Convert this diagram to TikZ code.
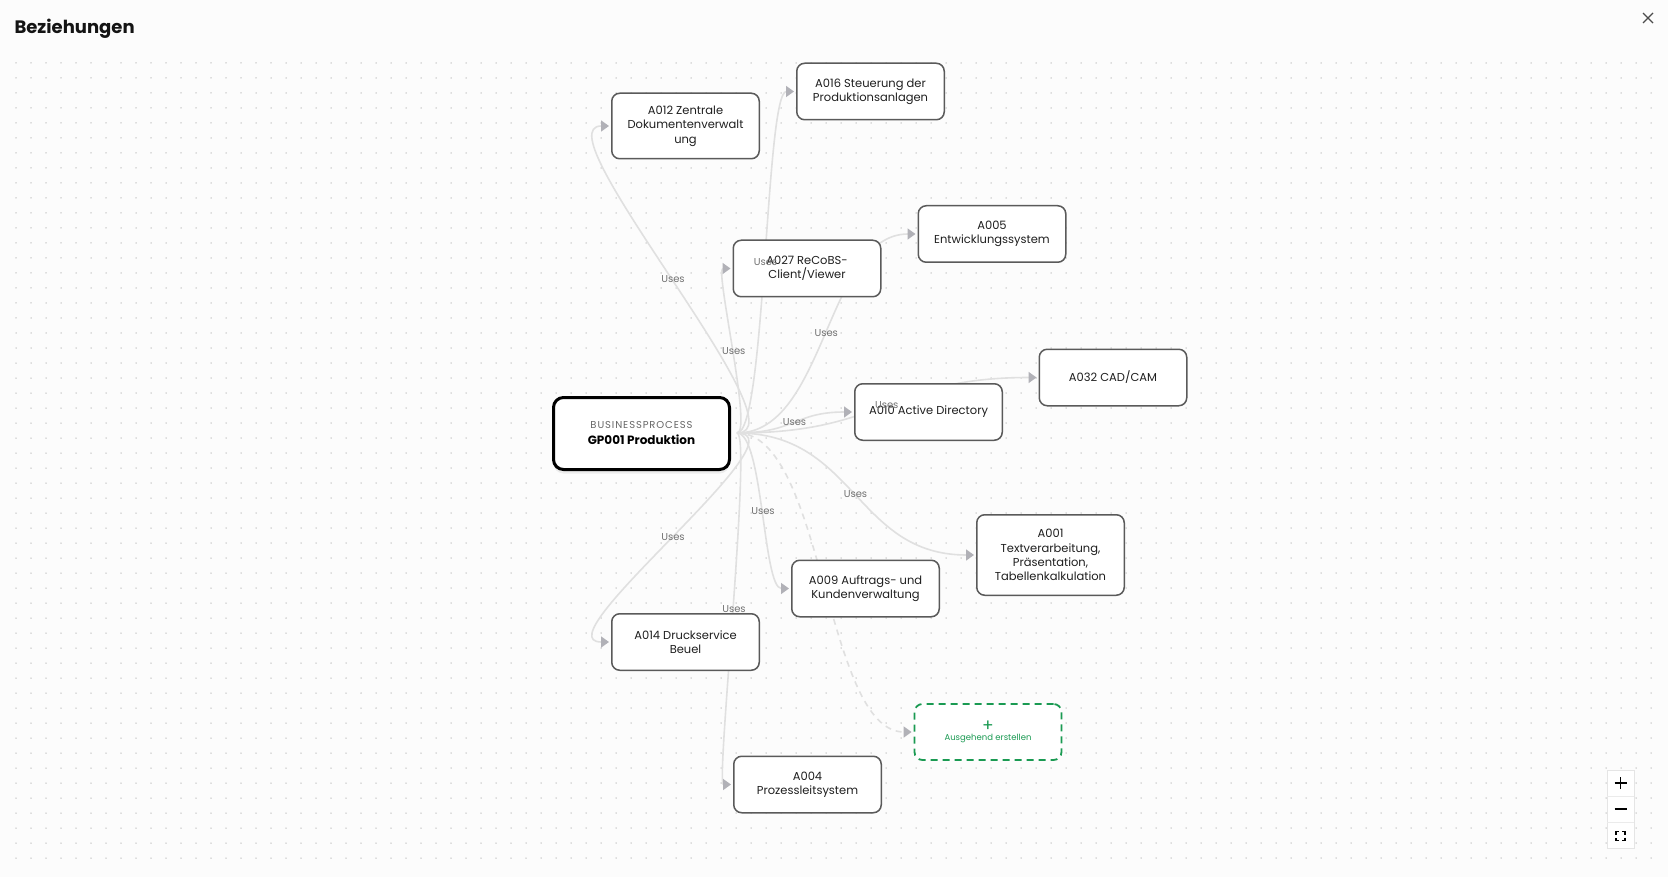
\documentclass[tikz,border=0pt]{standalone}
\usepackage{fontspec}
\setmainfont{Poppins}
\usepackage{xcolor}
\usepackage{tikz}
\usetikzlibrary{arrows.meta,shadows}

\definecolor{canvas}{HTML}{FCFCFC}
\definecolor{dotgray}{HTML}{BEBEBE}
\definecolor{edgegray}{HTML}{E0E0E0}
\definecolor{tipgray}{HTML}{B1B1B7}
\definecolor{boxgray}{HTML}{5A5A5A}
\definecolor{labelgray}{HTML}{707070}
\definecolor{newgreen}{HTML}{1A9A52}

\pgfdeclarelayer{dots}
\pgfdeclarelayer{links}
\pgfsetlayers{dots,links,main}

\tikzset{
  appbox/.style={draw=boxgray, line width=1.5pt, rounded corners=8pt, fill=white,
    minimum width=147.5pt, minimum height=56.5pt, align=center, text=black!88,
    font=\fontsize{11.5}{14.3}\selectfont},
  procbox/.style={draw=black, line width=3pt, rounded corners=10pt, fill=white,
    minimum width=176pt, minimum height=72pt, align=center,
    drop shadow={opacity=0.12, shadow xshift=0pt, shadow yshift=-4pt}},
  newbox/.style={draw=newgreen, line width=1.8pt, dash pattern=on 7pt off 5pt,
    rounded corners=8pt, fill=white, minimum width=147pt, minimum height=56pt,
    align=center, text=newgreen},
  link/.style={draw=edgegray, line width=1.6pt, -{Triangle[length=8pt,width=11pt,color=tipgray]}},
  uses/.style={text=labelgray, font=\fontsize{10}{12}\selectfont, inner sep=0pt},
}

\begin{document}
\begin{tikzpicture}[x=1pt, y=-1pt]
\useasboundingbox (0,0) rectangle (1668,877);

% Canvas
\begin{pgfonlayer}{dots}
\fill[canvas] (0,0) rectangle (1668,877);
\foreach \y in {63,78,...,858}
  \draw[dotgray, line width=1.5pt, line cap=round, dash pattern=on 0pt off 15pt] (16,\y) -- (1660,\y);
\end{pgfonlayer}

\node[anchor=west, text=black!92, font=\fontsize{18}{22}\selectfont\bfseries] (title) at (11,29) {Beziehungen};
\draw[black!70, line width=1.3pt] (1643,13) -- (1653,23) (1643,23) -- (1653,13);

% Nodes
\node[procbox] (gp) at (641.5,433.5) {{\fontsize{10}{12}\selectfont\addfontfeatures{LetterSpace=9}\color{black!60}BUSINESSPROCESS}\\[4pt]{\fontsize{12}{14}\selectfont\bfseries GP001 Produktion}};
\node[appbox, minimum height=65.5pt] (a012) at (685.5,126) {A012 Zentrale\\Dokumentenverwalt\\ung};
\node[appbox] (a016) at (870.5,91.5) {A016 Steuerung der\\Produktionsanlagen};
\node[appbox] (a027) at (807,268.5) {A027 ReCoBS-\\Client/Viewer};
\node[appbox] (a005) at (992,234) {A005\\Entwicklungssystem};
\node[appbox] (a032) at (1113,377.5) {A032 CAD/CAM};
\node[appbox] (a010) at (928.5,412) {A010 Active Directory};
\node[appbox, minimum height=80.5pt] (a001) at (1050.5,555) {A001\\Textverarbeitung,\\Präsentation,\\Tabellenkalkulation};
\node[appbox] (a009) at (865.5,588.5) {A009 Auftrags- und\\Kundenverwaltung};
\node[appbox] (a014) at (685.5,642) {A014 Druckservice\\Beuel};
\node[newbox] (neu) at (988,732) {{\fontsize{17}{17}\selectfont +}\\[-3pt]{\fontsize{8.5}{10}\selectfont Ausgehend erstellen}};
\node[appbox] (a004) at (807.5,784.5) {A004\\Prozessleitsystem};

% Links
\begin{pgfonlayer}{links}
\coordinate (src) at (737,433);
\draw[link] (src) .. controls +(70.7,0) and +(-70.7,0) .. ([xshift=-2pt]a012.west) coordinate[pos=0.5] (u012);
\draw[link] (src) .. controls +(28.5,0) and +(-28.5,0) .. ([xshift=-2pt]a016.west) coordinate[pos=0.5] (u016);
\draw[link] (src) .. controls +(15.9,0) and +(-15.9,0) .. ([xshift=-2pt]a027.west) coordinate[pos=0.5] (u027);
\draw[link] (src) .. controls +(89,0) and +(-89,0) .. ([xshift=-2pt]a005.west) coordinate[pos=0.5] (u005);
\draw[link] (src) .. controls +(149.5,0) and +(-149.5,0) .. ([xshift=-2pt]a032.west) coordinate[pos=0.5] (u032);
\draw[link] (src) .. controls +(57.5,0) and +(-57.5,0) .. ([xshift=-2pt]a010.west) coordinate[pos=0.5] (u010);
\draw[link] (src) .. controls +(118.5,0) and +(-118.5,0) .. ([xshift=-2pt]a001.west) coordinate[pos=0.5] (u001);
\draw[link] (src) .. controls +(26,0) and +(-26,0) .. ([xshift=-2pt]a009.west) coordinate[pos=0.5] (u009);
\draw[link] (src) .. controls +(70.7,0) and +(-70.7,0) .. ([xshift=-2pt]a014.west) coordinate[pos=0.5] (u014);
\draw[link] (src) .. controls +(15.3,0) and +(-15.3,0) .. ([xshift=-2pt]a004.west) coordinate[pos=0.5] (u004);
\draw[link, dash pattern=on 6pt off 5pt] (src) .. controls +(87,0) and +(-87,0) .. ([xshift=-2pt]neu.west);
\end{pgfonlayer}

% Labels
\node[uses] at (u012) {Uses};
\node[uses] at (u016) {Uses};
\node[uses] at (u027) {Uses};
\node[uses] at (u005) {Uses};
\node[uses] at (u032) {Uses};
\node[uses] at (u010) {Uses};
\node[uses] at (u001) {Uses};
\node[uses] at (u009) {Uses};
\node[uses] at (u014) {Uses};
\node[uses] at (u004) {Uses};

% Zoom controls
\draw[black!10, fill=white] (1607,770) rectangle (1634,848);
\draw[black!8] (1607,796) -- (1634,796) (1607,822) -- (1634,822);
\draw[line width=1.4pt] (1614.5,783) -- (1626.5,783) (1620.5,777) -- (1620.5,789);
\draw[line width=1.4pt] (1614.5,809) -- (1626.5,809);
\draw[line width=1.3pt] (1616,834.5) -- (1616,831.5) -- (1619,831.5)
  (1622,831.5) -- (1625,831.5) -- (1625,834.5)
  (1625,837.5) -- (1625,840.5) -- (1622,840.5)
  (1619,840.5) -- (1616,840.5) -- (1616,837.5);
\end{tikzpicture}
\end{document}
